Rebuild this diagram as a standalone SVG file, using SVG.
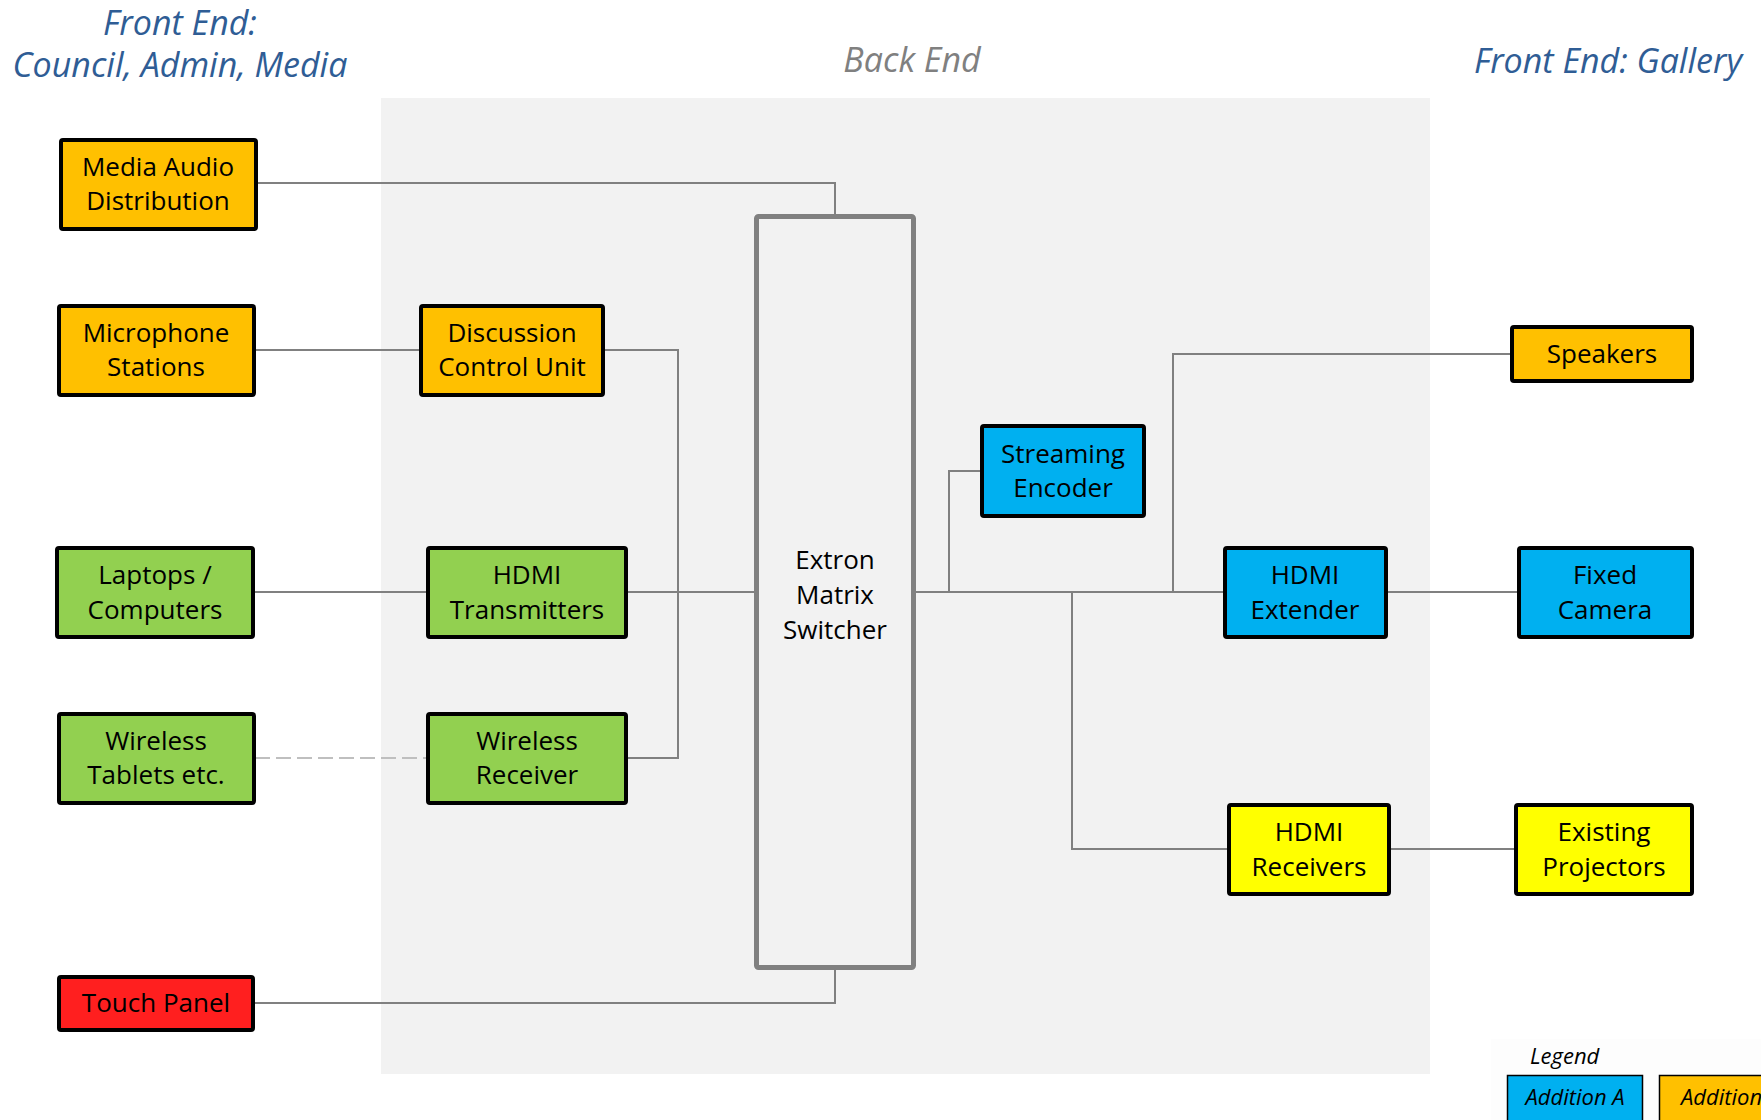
<svg xmlns="http://www.w3.org/2000/svg" width="1761" height="1120" viewBox="0 0 1761 1120">
<style>
.t{font-family:"Open Sans","Liberation Sans",sans-serif;font-size:26px;fill:#000;text-anchor:middle}
.h{font-family:"Open Sans","Liberation Sans",sans-serif;font-style:italic;font-size:34px;text-anchor:middle}
.n{stroke:#000;stroke-width:4}
.or{fill:#FFC000}.gr{fill:#92D050}.bl{fill:#00B0F0}.ye{fill:#FFFF00}.rd{fill:#FF1F1F}
.c{fill:none;stroke:#808080;stroke-width:2}
.lg{font-family:"Open Sans","Liberation Sans",sans-serif;font-style:italic;font-size:22px;fill:#000}
</style>
<rect width="1761" height="1120" fill="#fff"/>
<rect x="381" y="98" width="1049" height="976" fill="#F2F2F2"/>
<rect x="1491" y="1039" width="270" height="81" fill="#FDFDFD"/>
<text class="h" x="180" y="35" fill="#2F5D95" font-size="33">Front End:</text>
<text class="h" x="180" y="77" fill="#2F5D95">Council, Admin, Media</text>
<text class="h" x="912" y="72" fill="#808080">Back End</text>
<text class="h" x="1608" y="73" fill="#2F5D95">Front End: Gallery</text>
<g id="connectors">
<path class="c" d="M257 183H835V214"/>
<path class="c" d="M255 350H420"/>
<path class="c" d="M604 350H678V758H627"/>
<path class="c" d="M254 592H427"/>
<path class="c" d="M627 592H754"/>
<path d="M255 758H427" fill="none" stroke="#BFBFBF" stroke-width="2" stroke-dasharray="15 6"/>
<path class="c" d="M254 1003H835V970"/>
<path class="c" d="M916 592H1224"/>
<path class="c" d="M949 592V471H981"/>
<path class="c" d="M1173 592V354H1511"/>
<path class="c" d="M1072 592V849H1228"/>
<path class="c" d="M1387 592H1518"/>
<path class="c" d="M1390 849H1515"/>
</g>
<g id="media-audio"><rect class="n or" x="61" y="140" width="195" height="89" rx="2"/><text class="t" x="158" y="176">Media Audio</text><text class="t" x="158" y="210">Distribution</text></g>
<g id="microphone"><rect class="n or" x="59" y="306" width="195" height="89" rx="2"/><text class="t" x="156" y="342">Microphone</text><text class="t" x="156" y="376">Stations</text></g>
<g id="dcu"><rect class="n or" x="421" y="306" width="182" height="89" rx="2"/><text class="t" x="512" y="342">Discussion</text><text class="t" x="512" y="376">Control Unit</text></g>
<g id="laptops"><rect class="n gr" x="57" y="548" width="196" height="89" rx="2"/><text class="t" x="155" y="584">Laptops /</text><text class="t" x="155" y="619">Computers</text></g>
<g id="hdmi-tx"><rect class="n gr" x="428" y="548" width="198" height="89" rx="2"/><text class="t" x="527" y="584">HDMI</text><text class="t" x="527" y="619">Transmitters</text></g>
<g id="wireless-tablets"><rect class="n gr" x="59" y="714" width="195" height="89" rx="2"/><text class="t" x="156" y="750">Wireless</text><text class="t" x="156" y="784">Tablets etc.</text></g>
<g id="wireless-rx"><rect class="n gr" x="428" y="714" width="198" height="89" rx="2"/><text class="t" x="527" y="750">Wireless</text><text class="t" x="527" y="784">Receiver</text></g>
<g id="touch-panel"><rect class="n rd" x="59" y="977" width="194" height="53" rx="2"/><text class="t" x="156" y="1012">Touch Panel</text></g>
<g id="switcher"><rect x="756.5" y="216.5" width="157" height="751" rx="2" fill="#F2F2F2" stroke="#808080" stroke-width="5"/><text class="t" x="835" y="569">Extron</text><text class="t" x="835" y="604">Matrix</text><text class="t" x="835" y="639">Switcher</text></g>
<g id="streaming-encoder"><rect class="n bl" x="982" y="426" width="162" height="90" rx="2"/><text class="t" x="1063" y="463">Streaming</text><text class="t" x="1063" y="497">Encoder</text></g>
<g id="speakers"><rect class="n or" x="1512" y="327" width="180" height="54" rx="2"/><text class="t" x="1602" y="363">Speakers</text></g>
<g id="hdmi-extender"><rect class="n bl" x="1225" y="548" width="161" height="89" rx="2"/><text class="t" x="1305" y="584">HDMI</text><text class="t" x="1305" y="619">Extender</text></g>
<g id="fixed-camera"><rect class="n bl" x="1519" y="548" width="173" height="89" rx="2"/><text class="t" x="1605" y="584">Fixed</text><text class="t" x="1605" y="619">Camera</text></g>
<g id="hdmi-receivers"><rect class="n ye" x="1229" y="805" width="160" height="89" rx="2"/><text class="t" x="1309" y="841">HDMI</text><text class="t" x="1309" y="876">Receivers</text></g>
<g id="projectors"><rect class="n ye" x="1516" y="805" width="176" height="89" rx="2"/><text class="t" x="1604" y="841">Existing</text><text class="t" x="1604" y="876">Projectors</text></g>
<g id="legend">
<text class="lg" x="1530" y="1064" font-size="25">Legend</text>
<rect x="1507.5" y="1075.5" width="135" height="60" fill="#00B0F0" stroke="#000" stroke-width="1.5"/>
<text class="lg" x="1575" y="1105" text-anchor="middle">Addition A</text>
<rect x="1659.5" y="1075.5" width="140" height="60" fill="#FFC000" stroke="#000" stroke-width="1.5"/>
<text class="lg" x="1681" y="1105">Addition B</text>
</g>
</svg>
